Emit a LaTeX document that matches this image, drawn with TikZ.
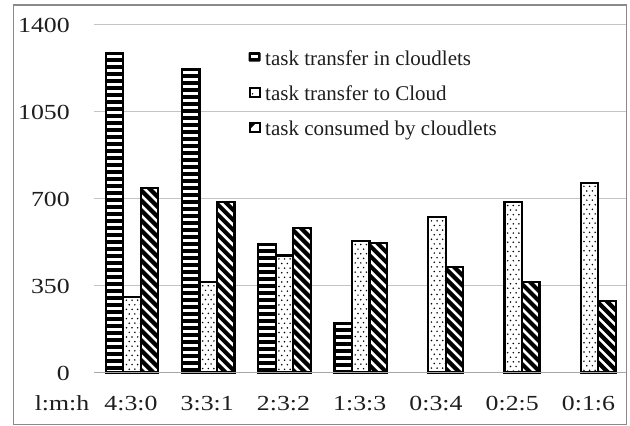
\documentclass[tikz,border=0pt]{standalone}
\usepackage{fontspec}
\setmainfont{Liberation Serif}
\newfontfamily\axisfont[FakeStretch=1.2]{Liberation Serif}
\definecolor{framegray}{HTML}{8A8A8A}
\definecolor{gridgray}{HTML}{C4C4C4}
\definecolor{axisgray}{HTML}{A6A6A6}
\definecolor{txt}{HTML}{1E1E1E}

% value -> vertical position (0 at 372.5, 1400 at 24)
\newcommand\valtoy[1]{\pgfmathsetmacro\yt{372.5-0.24857*#1}}

% bar with horizontal black bands
\newcommand\hstripebar[3]{%
  \valtoy{#3}%
  \pgfmathsetmacro\ys{round(\yt)}%
  \fill[white] (#1,\yt) rectangle (#2,372.5);
  \begin{scope}
    \clip (#1,\yt) rectangle (#2,372.5);
    \foreach \nn in {0,...,48}{
      \draw[line width=4pt] (#1-1,\ys+7*\nn) -- (#2+1,\ys+7*\nn);
    }
  \end{scope}
  \draw[barframe] (#1,\yt) rectangle (#2,372.5);
}

% bar with a sparse dot texture
\newcommand\dotbar[3]{%
  \valtoy{#3}%
  \fill[white] (#1,\yt) rectangle (#2,372.5);
  \begin{scope}
    \clip (#1,\yt) rectangle (#2,372.5);
    \foreach \rr in {0,...,42}{
      \pgfmathsetmacro\off{mod(\rr,2)*2.8}
      \foreach \cc in {0,1,2}{
        \fill (#1+3.2+\off+5.6*\cc,\yt+3.5+4.6*\rr) circle (0.85pt);
      }
    }
  \end{scope}
  \draw[barframe] (#1,\yt) rectangle (#2,372.5);
}

% bar with thick diagonal stripes
\newcommand\diagbar[3]{%
  \valtoy{#3}%
  \fill[white] (#1,\yt) rectangle (#2,372.5);
  \begin{scope}
    \clip (#1,\yt) rectangle (#2,372.5);
    \foreach \rr in {0,...,24}{
      \draw[line width=4.2pt] (#1-2,\yt-20+10*\rr) -- (#1+22,\yt+4+10*\rr);
    }
  \end{scope}
  \draw[barframe] (#1,\yt) rectangle (#2,372.5);
}

\begin{document}
\begin{tikzpicture}[x=1pt,y=-1pt,
  barframe/.style={line width=2.2pt,black},
  gridline/.style={gridgray,line width=1.4pt},
  ylab/.style={anchor=east,inner sep=0pt,text=txt,font=\axisfont\fontsize{21.5}{24}\selectfont},
  xlab/.style={anchor=center,inner sep=0pt,text=txt,font=\axisfont\fontsize{21.5}{24}\selectfont},
  leglab/.style={anchor=base west,inner sep=0pt,text=txt,font=\fontsize{21}{24}\selectfont}]
\useasboundingbox (0,0) rectangle (630,426);
\fill[white] (0,0) rectangle (630,426);

% outer frame
\draw[framegray,line width=1.6pt] (13.5,5) rectangle (626.5,424.5);

% gridlines and value axis labels
\foreach \v/\nm in {1400/a,1050/b,700/c,350/d}{
  \valtoy{\v}
  \draw[gridline] (94,\yt) -- (626,\yt);
  \node[ylab] (tick\nm) at (70,\yt+0.5) {\v};
}
\node[ylab] (tickz) at (70,373) {0};

% bars
\foreach \k/\a/\b/\c in {0/1285/305/743,1/1221/363/687,2/518/471/580,3/198/529/520,
                         4/0/624/426,5/0/686/364,6/0/763/289}{
  \pgfmathsetmacro\cx{132+76.25*\k}
  \ifnum\a>0
    \hstripebar{\cx-26.25}{\cx-8.75}{\a}
  \fi
  \dotbar{\cx-8.75}{\cx+8.75}{\b}
  \diagbar{\cx+8.75}{\cx+26.25}{\c}
}

% category axis
\draw[axisgray,line width=1.8pt] (94,372.5) -- (626,372.5);
\node[xlab] (cathead) at (62,403.5) {l:m:h};
\foreach \k/\t in {0/4:3:0,1/3:3:1,2/2:3:2,3/1:3:3,4/0:3:4,5/0:2:5,6/0:1:6}{
  \node[xlab] (cat\k) at ({131+76.25*\k},403.5) {\t};
}

% legend
\fill[black,rounded corners=1pt] (248.5,52) rectangle (260.5,61.5);
\fill[white] (251,55.4) rectangle (258,58.2);
\draw[line width=2pt] (249.5,88) rectangle (259.5,96.5);
\fill (252.6,93.8) circle (0.8pt);
\draw[line width=2pt] (249.5,122.8) rectangle (259.5,131.5);
\fill (249.5,122.8) -- (256.5,122.8) -- (249.5,129.5) -- cycle;
\node[leglab] (leg1) at (265,65) {task transfer in cloudlets};
\node[leglab] (leg2) at (265,100.3) {task transfer to Cloud};
\node[leglab] (leg3) at (265,135.5) {task consumed by cloudlets};
\end{tikzpicture}
\end{document}
